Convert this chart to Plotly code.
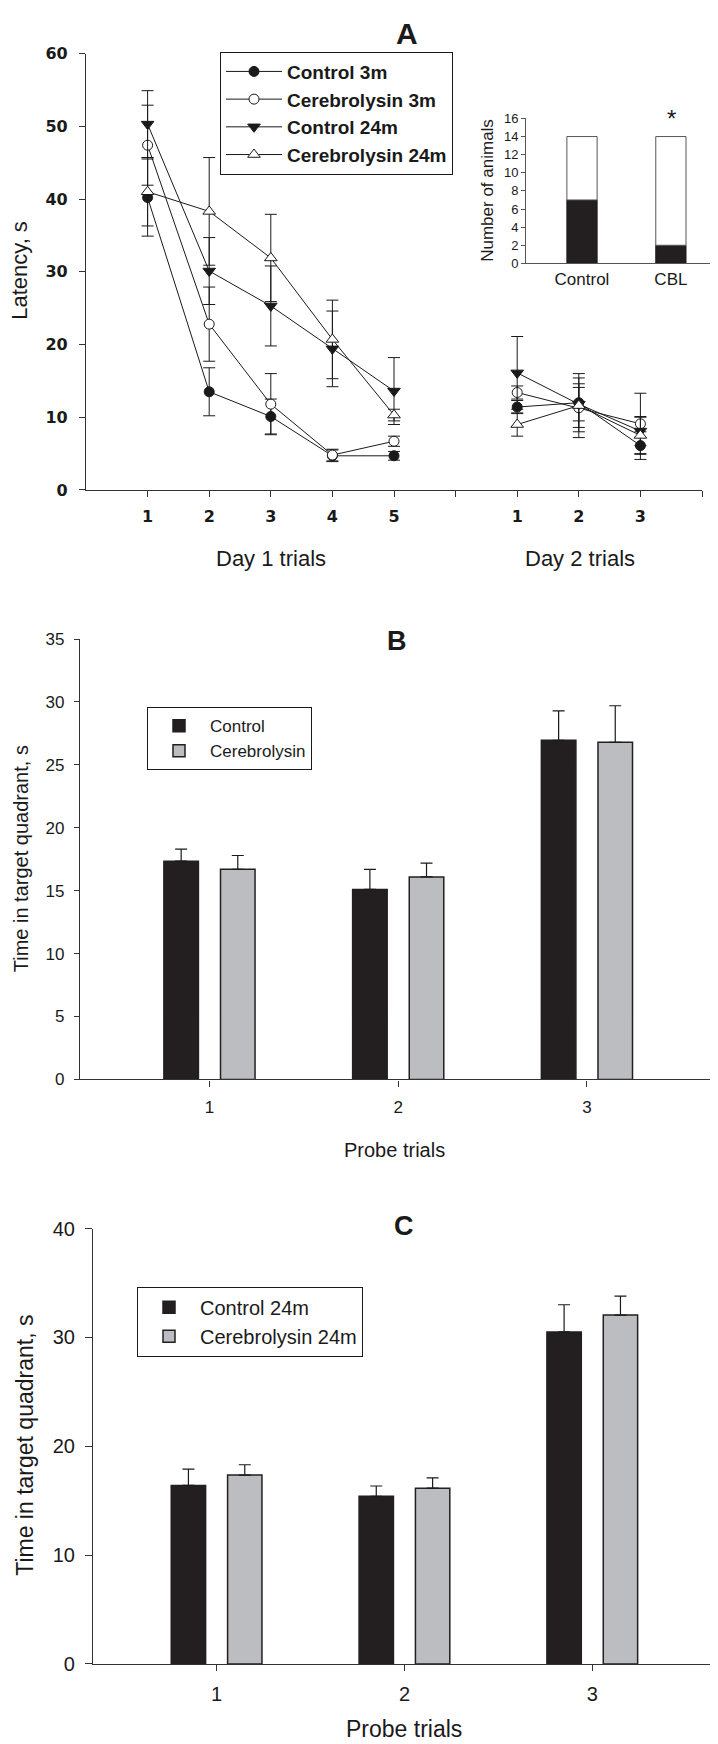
import plotly.graph_objects as go

# ---------------- Panel A data ----------------
trial_pos = [1, 2, 3, 4, 5, 6, 7, 8, 9]
tick_pos_a = [1, 2, 3, 4, 5, 6, 7, 8, 9, 10]
tick_text_a = ["1", "2", "3", "4", "5", "", "1", "2", "3", ""]

control_3m = [40.2, 13.5, 10.1, 4.7, 4.7, None, 11.4, 12.0, 6.1]
control_3m_err = [5.3, 3.3, 2.4, 0.8, 0.6, None, 0.9, 4.0, 1.9]
cereb_3m = [47.4, 22.8, 11.8, 4.8, 6.7, None, 13.4, 11.3, 9.1]
cereb_3m_err = [5.5, 5.1, 4.2, 0.8, 0.7, None, 0.9, 4.1, 4.2]
control_24m = [50.3, 30.1, 25.3, 19.4, 13.6, None, 16.1, 11.8, 8.1]
control_24m_err = [4.6, 4.6, 5.5, 5.2, 4.6, None, 5.0, 2.3, 2.0]
cereb_24m = [41.0, 38.3, 31.9, 20.7, 10.3, None, 9.0, 11.6, 7.5]
cereb_24m_err = [4.7, 7.4, 6.0, 5.4, 0.8, None, 1.6, 3.0, 2.5]

# inset
inset_groups = [0, 1]
inset_labels = ["Control", "CBL"]
inset_black = [7, 2]
inset_white = [7, 12]

# ---------------- Panel B data ----------------
probe_trials = [1, 2, 3]
b_control = [17.35, 15.1, 26.95]
b_control_err = [0.95, 1.6, 2.35]
b_cereb = [16.7, 16.1, 26.8]
b_cereb_err = [1.1, 1.1, 2.9]

# ---------------- Panel C data ----------------
c_control = [16.4, 15.4, 30.5]
c_control_err = [1.5, 0.95, 2.5]
c_cereb = [17.35, 16.15, 32.05]
c_cereb_err = [0.95, 0.95, 1.75]

W, H = 718, 1744
FONT = "Liberation Sans, Arial, sans-serif"
INK = "#1a1a1a"
BAR_DARK = "#231f20"
BAR_GRAY = "#bcbdc0"


def px(xp):
    return xp / W


def py(yp):
    return 1 - yp / H


fig = go.Figure()

# ---- Panel A lines ----
series = [
    ("Control 3m", control_3m, control_3m_err, "circle", INK),
    ("Cerebrolysin 3m", cereb_3m, cereb_3m_err, "circle", "white"),
    ("Control 24m", control_24m, control_24m_err, "triangle-down", INK),
    ("Cerebrolysin 24m", cereb_24m, cereb_24m_err, "triangle-up", "white"),
]
for name, vals, errs, sym, fill in series:
    fig.add_trace(go.Scatter(
        x=trial_pos, y=vals, name=name, mode="lines+markers",
        line=dict(color=INK, width=1),
        marker=dict(symbol=sym, size=10 if "circle" in sym else 11, color=fill,
                    line=dict(color=INK, width=1)),
        error_y=dict(type="data", array=errs, visible=True, color=INK,
                     thickness=1, width=6),
        connectgaps=False, xaxis="x", yaxis="y", legend="legend",
    ))

# ---- Inset stacked bars ----
fig.add_trace(go.Bar(
    x=inset_groups, y=inset_black, marker=dict(color=BAR_DARK, line=dict(color=INK, width=1)),
    width=0.34, offsetgroup="inset", xaxis="x2", yaxis="y2", showlegend=False))
fig.add_trace(go.Bar(
    x=inset_groups, y=inset_white, base=inset_black,
    marker=dict(color="white", line=dict(color="#555555", width=1)),
    width=0.34, offsetgroup="inset", xaxis="x2", yaxis="y2", showlegend=False))

# ---- Panel B bars ----
fig.add_trace(go.Bar(
    x=probe_trials, y=b_control, name="Control",
    marker=dict(color=BAR_DARK, line=dict(color=BAR_DARK, width=1.5)),
    error_y=dict(type="data", array=b_control_err, arrayminus=[0, 0, 0], symmetric=False,
                 color=INK, thickness=1.2, width=6),
    xaxis="x3", yaxis="y3", legend="legend2"))
fig.add_trace(go.Bar(
    x=probe_trials, y=b_cereb, name="Cerebrolysin",
    marker=dict(color=BAR_GRAY, line=dict(color=BAR_DARK, width=1.5)),
    error_y=dict(type="data", array=b_cereb_err, arrayminus=[0, 0, 0], symmetric=False,
                 color=INK, thickness=1.2, width=6),
    xaxis="x3", yaxis="y3", legend="legend2"))

# ---- Panel C bars ----
fig.add_trace(go.Bar(
    x=probe_trials, y=c_control, name="Control 24m",
    marker=dict(color=BAR_DARK, line=dict(color=BAR_DARK, width=1.5)),
    error_y=dict(type="data", array=c_control_err, arrayminus=[0, 0, 0], symmetric=False,
                 color=INK, thickness=1.2, width=6),
    xaxis="x4", yaxis="y4", legend="legend3"))
fig.add_trace(go.Bar(
    x=probe_trials, y=c_cereb, name="Cerebrolysin 24m",
    marker=dict(color=BAR_GRAY, line=dict(color=BAR_DARK, width=1.5)),
    error_y=dict(type="data", array=c_cereb_err, arrayminus=[0, 0, 0], symmetric=False,
                 color=INK, thickness=1.2, width=6),
    xaxis="x4", yaxis="y4", legend="legend3"))

axis_common = dict(showline=True, linecolor="#333333", linewidth=1.2, showgrid=False,
                   zeroline=False, ticks="outside", tickcolor="#333333", tickwidth=1.2)

tickfont_a = dict(family="DejaVu Sans, sans-serif", size=16, color=INK, weight="bold")

fig.update_layout(
    width=W, height=H, margin=dict(l=0, r=0, t=0, b=0),
    paper_bgcolor="white", plot_bgcolor="rgba(0,0,0,0)",
    font=dict(family=FONT, color=INK),
    barmode="group", bargap=0.4, bargroupgap=0.39,
    # Panel A
    xaxis=dict(domain=[px(78), px(694)], anchor="y", range=[0, 10],
               tickvals=tick_pos_a, ticktext=tick_text_a, ticklen=6,
               tickfont=tickfont_a, ticklabelstandoff=6, **axis_common),
    yaxis=dict(domain=[py(477), py(35)], anchor="x", range=[0, 60], dtick=10,
               ticklen=6, tickfont=tickfont_a, ticklabelstandoff=8, **axis_common),
    # Inset
    xaxis2=dict(domain=[px(518), px(718)], anchor="y2", range=[-0.63, 1.62],
                tickvals=inset_groups, ticktext=inset_labels, ticks="",
                tickfont=dict(family=FONT, size=17, color=INK),
                showline=True, linecolor="#555555", linewidth=1, showgrid=False, zeroline=False),
    yaxis2=dict(domain=[py(247.5), py(100.7)], anchor="x2", range=[0, 16], dtick=2,
                ticklen=4, tickfont=dict(family=FONT, size=13, color=INK),
                showline=True, linecolor="#555555", linewidth=1, showgrid=False, zeroline=False,
                ticks="outside", tickcolor="#555555"),
    # Panel B
    xaxis3=dict(domain=[px(72), px(702)], anchor="y3", range=[0.314, 3.652],
                tickvals=probe_trials, ticklen=6, ticklabelstandoff=6,
                tickfont=dict(family=FONT, size=17, color=INK), **axis_common),
    yaxis3=dict(domain=[py(1074), py(628)], anchor="x3", range=[0, 35], dtick=5,
                ticklen=5, ticklabelstandoff=6,
                tickfont=dict(family=FONT, size=17, color=INK), **axis_common),
    # Panel C
    xaxis4=dict(domain=[px(85), px(706)], anchor="y4", range=[0.342, 3.648],
                tickvals=probe_trials, ticklen=6, ticklabelstandoff=6,
                tickfont=dict(family=FONT, size=20, color=INK), **axis_common),
    yaxis4=dict(domain=[py(1666), py(1225)], anchor="x4", range=[0, 40], dtick=10,
                ticklen=7, ticklabelstandoff=6,
                tickfont=dict(family=FONT, size=20, color=INK), **axis_common),
    legend=dict(x=px(212), y=py(33), xanchor="left", yanchor="top",
                bordercolor=INK, borderwidth=1, bgcolor="white", itemwidth=56,
                font=dict(family=FONT, size=19, color=INK, weight="bold"),
                tracegroupgap=0),
    legend2=dict(x=px(139), y=py(697), xanchor="left", yanchor="top",
                 bordercolor=INK, borderwidth=1, bgcolor="white", itemwidth=52,
                 font=dict(family=FONT, size=17, color=INK)),
    legend3=dict(x=px(129), y=py(1284), xanchor="left", yanchor="top",
                 bordercolor=INK, borderwidth=1, bgcolor="white", itemwidth=52,
                 font=dict(family=FONT, size=20, color=INK)),
)

annots = [
    dict(text="<b>A</b>", x=px(399), y=py(15), size=30),
    dict(text="Latency, s", x=px(12), y=py(255), size=22, angle=-90),
    dict(text="Day 1 trials", x=px(263), y=py(546), size=22),
    dict(text="Day 2 trials", x=px(572), y=py(546), size=22),
    dict(text="Number of animals", x=px(480), y=py(174), size=17, angle=-90),
    dict(text="*", x=px(663), y=py(101), size=24),
    dict(text="<b>B</b>", x=px(389), y=py(630), size=27),
    dict(text="Time in target quadrant, s", x=px(13), y=py(851), size=20, angle=-90),
    dict(text="Probe trials", x=px(386), y=py(1145), size=20),
    dict(text="<b>C</b>", x=px(396), y=py(1222), size=27),
    dict(text="Time in target quadrant, s", x=px(17), y=py(1445), size=23, angle=-90),
    dict(text="Probe trials", x=px(396), y=py(1732), size=23),
]
for a in annots:
    fig.add_annotation(text=a["text"], x=a["x"], y=a["y"], xref="paper", yref="paper",
                       xanchor="center", yanchor="middle", showarrow=False,
                       textangle=a.get("angle", 0),
                       font=dict(family=FONT, size=a["size"], color=INK))

fig.write_html("out.html")
